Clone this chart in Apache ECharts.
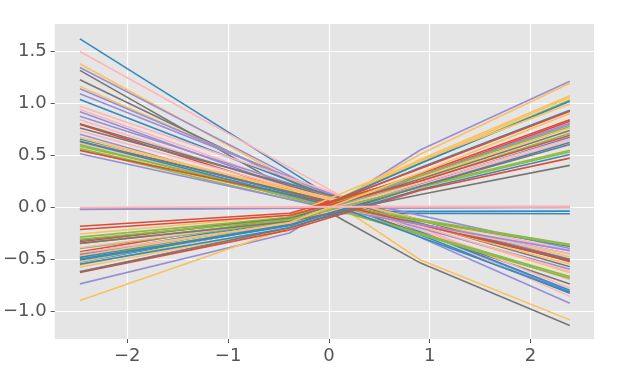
<!DOCTYPE html>
<html>
<head>
<meta charset="utf-8">
<script src="https://cdn.jsdelivr.net/npm/echarts@6/dist/echarts.min.js"></script>
<style>
  html, body { margin: 0; padding: 0; background: #fff; }
  #chart { width: 625px; height: 373px; }
</style>
</head>
<body>
<div id="chart"></div>
<script>
// x positions shared by every line (null = no vertex read at that x)
const xPos = [-2.47, -0.39, 0.15, 0.91, 2.39]

const xTicks = [-2, -1, 0, 1, 2]
const yTicks = [-1.0, -0.5, 0.0, 0.5, 1.0, 1.5]

// lines falling from left to right
const fallColors = ['b','pk','y','pu','gy','gy','y','pu','pu','b','pk','pk','pu','pu','pk','gy',
  'r','gy','pk','pu','y','b','y','gy','pk','g','g','g','g','r','pu','b']
const fallValues = [
  [1.617, null, 0.02, null, -0.83],
  [1.496, null, 0.09, null, -0.86],
  [1.378, null, -0.02, -0.51, -1.086],
  [1.342, null, 0.03, null, -0.926],
  [1.314, null, -0.13, -0.54, -1.14],
  [1.224, null, 0.0, null, -0.74],
  [1.16, null, 0.04, null, -0.633],
  [1.138, null, 0.06, null, -0.815],
  [1.09, null, 0.08, null, -0.40],
  [1.033, null, 0.05, null, -0.80],
  [0.968, null, 0.1, null, -0.78],
  [0.937, null, 0.03, null, -0.415],
  [0.915, null, 0.0, null, -0.60],
  [0.873, null, 0.06, null, -0.50],
  [0.84, null, 0.02, null, -0.70],
  [0.80, null, 0.05, null, -0.575],
  [0.793, null, 0.0, null, -0.51],
  [0.76, null, 0.08, null, -0.527],
  [0.73, null, 0.04, null, -0.62],
  [0.70, null, -0.02, null, -0.45],
  [0.67, null, 0.03, null, -0.55],
  [0.65, null, 0.0, null, -0.38],
  [0.64, null, 0.06, null, -0.48],
  [0.633, null, 0.02, null, -0.505],
  [0.617, null, -0.03, null, -0.45],
  [0.60, null, -0.04, null, -0.67],
  [0.585, null, 0.0, null, -0.36],
  [0.563, null, -0.02, null, -0.37],
  [0.55, null, -0.05, null, -0.687],
  [0.544, null, 0.01, null, -0.52],
  [0.512, null, -0.04, null, -0.42],
  [0.63, null, -0.02, null, -0.82],
]

// lines rising from left to right
const riseColors = ['pu','y','y','y','g','b','y','b','r','r','r','pu','pu','g','y','gy','g','r',
  'b','pk','pk','b','g','g','b','r','gy','gy','y']
const riseValues = [
  [-0.74, -0.25, null, 0.55, 1.21],
  [-0.90, -0.20, null, 0.51, 1.19],
  [-0.56, -0.15, null, 0.46, 1.07],
  [-0.527, -0.14, null, 0.44, 1.055],
  [-0.505, -0.12, null, 0.42, 1.03],
  [-0.485, -0.13, null, 0.42, 1.016],
  [-0.26, -0.08, null, 0.45, 0.99],
  [-0.46, -0.12, null, 0.38, 0.93],
  [-0.43, -0.10, null, 0.37, 0.92],
  [-0.335, -0.10, null, 0.32, 0.84],
  [-0.185, -0.06, null, 0.30, 0.825],
  [-0.62, -0.20, null, 0.30, 0.805],
  [-0.45, -0.16, null, 0.30, 0.79],
  [-0.29, -0.10, null, 0.30, 0.774],
  [-0.58, -0.20, null, 0.28, 0.76],
  [-0.32, -0.11, null, 0.27, 0.735],
  [-0.40, -0.14, null, 0.25, 0.71],
  [-0.217, -0.08, null, 0.25, 0.69],
  [-0.51, -0.18, null, 0.22, 0.67],
  [-0.39, -0.13, null, 0.23, 0.656],
  [-0.44, -0.16, null, 0.21, 0.64],
  [-0.50, -0.17, null, 0.20, 0.62],
  [-0.35, -0.13, null, 0.20, 0.545],
  [-0.31, -0.12, null, 0.19, 0.53],
  [-0.55, -0.20, null, 0.17, 0.505],
  [-0.63, -0.22, null, 0.16, 0.47],
  [-0.35, -0.14, null, 0.12, 0.40],
  [-0.623, -0.20, null, 0.20, 0.60],
  [-0.47, -0.15, null, 0.33, 0.90],
]

// near-flat lines
const flatColors = ['gy', 'pu', 'b', 'b', 'pk', 'pk']
const flatValues = [
  [-0.02, null, -0.01, null, 0.0],
  [-0.025, null, -0.01, null, -0.005],
  [-0.48, -0.14, -0.045, null, -0.04],
  [-0.53, -0.17, -0.06, null, -0.065],
  [-0.005, null, 0.0, null, 0.0],
  [-0.008, null, 0.005, null, 0.01],
]

const PALETTE = {
  r: '#E24A33', b: '#348ABD', pu: '#988ED5', gy: '#777777',
  y: '#FBC15E', g: '#8EBA42', pk: '#FFB5B8',
}

function minus(v, digits) {
  const s = Math.abs(v).toFixed(digits)
  return v < 0 ? '\u2212' + s : s
}

function toSeries(colors, values) {
  return values.map((vals, i) => ({
    type: 'line',
    showSymbol: false,
    silent: true,
    data: vals.map((v, k) => [xPos[k], v]).filter(p => p[1] != null),
    lineStyle: { color: PALETTE[colors[i]], width: 1.6 },
    itemStyle: { color: PALETTE[colors[i]] },
  }))
}

const chart = echarts.init(document.getElementById('chart'), null, { renderer: 'canvas' })
chart.setOption({
  animation: false,
  backgroundColor: '#ffffff',
  grid: { left: 53, right: 31, top: 24, bottom: 34, show: true, backgroundColor: '#E5E5E5', borderWidth: 0 },
  xAxis: {
    type: 'value', min: -2.72, max: 2.63,
    axisLine: { show: false, onZero: false },
    axisTick: { show: true, customValues: xTicks, length: 4, lineStyle: { color: '#555555' } },
    axisLabel: {
      customValues: xTicks, color: '#555555', fontSize: 18, margin: 8,
      fontFamily: 'DejaVu Sans', formatter: v => minus(v, 0),
    },
    splitLine: { show: true, lineStyle: { color: '#ffffff', width: 1.2 } },
  },
  yAxis: {
    type: 'value', min: -1.27, max: 1.76,
    axisLine: { show: false, onZero: false },
    axisTick: { show: true, customValues: yTicks, length: 4, lineStyle: { color: '#555555' } },
    axisLabel: {
      customValues: yTicks, color: '#555555', fontSize: 18, margin: 8,
      fontFamily: 'DejaVu Sans', formatter: v => minus(v, 1),
    },
    splitLine: { show: true, lineStyle: { color: '#ffffff', width: 1.2 } },
  },
  series: [
    ...toSeries(flatColors.slice(0, 4), flatValues.slice(0, 4)),
    ...toSeries(fallColors, fallValues),
    ...toSeries(riseColors, riseValues),
    ...toSeries(flatColors.slice(4), flatValues.slice(4)),
  ],
})
</script>
</body>
</html>
